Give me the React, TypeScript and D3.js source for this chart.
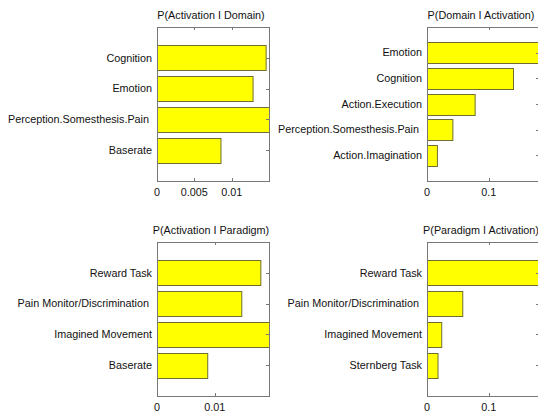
import React from "react";
import * as d3 from "d3";

// Category labels (top to bottom) and their probabilities for each panel
const domainCats = ["Cognition", "Emotion", "Perception.Somesthesis.Pain ", "Baserate"];
const activationGivenDomain = [0.01455, 0.0128, 0.015, 0.0085];

const domainCatsRev = ["Emotion", "Cognition", "Action.Execution", "Perception.Somesthesis.Pain ", "Action.Imagination"];
const domainGivenActivation = [0.181, 0.139, 0.077, 0.041, 0.016];

const paradigmCats = ["Reward Task", "Pain Monitor/Discrimination ", "Imagined Movement", "Baserate"];
const activationGivenParadigm = [0.0179, 0.0146, 0.0194, 0.0087];

const paradigmCatsRev = ["Reward Task", "Pain Monitor/Discrimination ", "Imagined Movement", "Sternberg Task"];
const paradigmGivenActivation = [0.181, 0.057, 0.023, 0.017];

const ticksTL = [0, 0.005, 0.01];
const ticksTR = [0, 0.1];
const ticksBL = [0, 0.01];
const ticksBR = [0, 0.1];

const titles = [
  "P(Activation I Domain)",
  "P(Domain I Activation)",
  "P(Activation I Paradigm)",
  "P(Paradigm I Activation)",
];

const FONT = "'Liberation Sans', Arial, Helvetica, sans-serif";
const FS = 10.8;
const AXIS = "#777";
const W = 112;
const H = 154;

type PanelProps = {
  id: string;
  left: number;
  top: number;
  title: string;
  cats: string[];
  values: number[];
  ticks: number[];
};

function Panel({ id, left, top, title, cats, values, ticks }: PanelProps) {
  const n = cats.length;
  const x = d3.scaleLinear().domain([0, d3.max(values) as number]).range([left, left + W]);
  // Bar positions follow barh's layout: 1..n with one unit of padding on each side
  const y = d3.scaleLinear().domain([0, n + 1]).range([top + H, top]);
  const bandH = y(0) - y(0.8);
  const bottom = top + H;
  const fmt = (v: number) => (v === 0 ? "0" : d3.format("~g")(v));

  return (
    <g>
      <defs>
        <clipPath id={id}>
          <rect x={left} y={top} width={W} height={H} />
        </clipPath>
      </defs>
      <text
        x={left + W / 2 - 2}
        y={top - 8}
        textAnchor="middle"
        fontFamily={FONT}
        fontSize={FS}
        fill="#111"
      >
        {title}
      </text>
      <g clipPath={`url(#${id})`}>
        {values.map((v, i) => {
          const pos = n - i;
          return (
            <rect
              key={i}
              x={x(0) + 0.5}
              y={Math.round(y(pos + 0.4)) + 0.5}
              width={Math.max(0, x(v) - x(0))}
              height={Math.round(bandH)}
              fill="#ffff00"
              stroke="#6e6e30"
              strokeWidth={1}
            />
          );
        })}
      </g>
      {/* box */}
      <rect x={left + 0.5} y={top + 0.5} width={W} height={H} fill="none" stroke={AXIS} strokeWidth={1} />
      {/* x ticks, bottom and top, pointing inward */}
      {ticks.map((t, i) => (
        <g key={i}>
          <line x1={Math.round(x(t)) + 0.5} x2={Math.round(x(t)) + 0.5} y1={bottom} y2={bottom - 3} stroke={AXIS} />
          <line x1={Math.round(x(t)) + 0.5} x2={Math.round(x(t)) + 0.5} y1={top} y2={top + 3} stroke={AXIS} />
          <text
            x={x(t)}
            y={bottom + 15}
            textAnchor="middle"
            fontFamily={FONT}
            fontSize={FS}
            fill="#111"
          >
            {fmt(t)}
          </text>
        </g>
      ))}
      {/* y ticks on the right side and category labels */}
      {cats.map((c, i) => {
        const pos = n - i;
        const yy = Math.round(y(pos)) + 0.5;
        return (
          <g key={i}>
            <line x1={left + W} x2={left + W - 3} y1={yy} y2={yy} stroke={AXIS} />
            <text
              x={left - 5}
              y={y(pos)}
              dy="0.35em"
              textAnchor="end"
              fontFamily={FONT}
              fontSize={FS}
              fill="#111"
              style={{ whiteSpace: "pre" }}
            >
              {c}
            </text>
          </g>
        );
      })}
    </g>
  );
}

export default function App() {
  return (
    <svg
      width={538}
      height={415}
      style={{ position: "absolute", left: 0, top: 0, background: "#fff" }}
    >
      <rect width={538} height={415} fill="#fff" />
      <Panel id="c1" left={157} top={27} title={titles[0]} cats={domainCats} values={activationGivenDomain} ticks={ticksTL} />
      <Panel id="c2" left={427} top={27} title={titles[1]} cats={domainCatsRev} values={domainGivenActivation} ticks={ticksTR} />
      <Panel id="c3" left={157} top={242} title={titles[2]} cats={paradigmCats} values={activationGivenParadigm} ticks={ticksBL} />
      <Panel id="c4" left={427} top={242} title={titles[3]} cats={paradigmCatsRev} values={paradigmGivenActivation} ticks={ticksBR} />
    </svg>
  );
}
